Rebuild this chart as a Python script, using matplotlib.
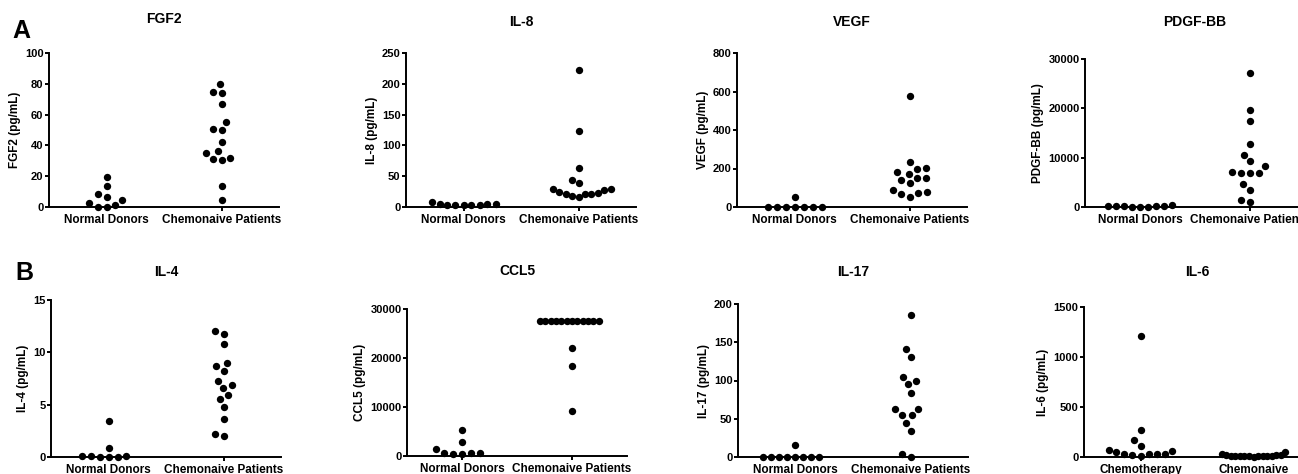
import numpy as np
import matplotlib
matplotlib.use("Agg")
import matplotlib.pyplot as plt

plt.rcParams["font.family"] = ["Liberation Sans", "DejaVu Sans"]
plt.rcParams["font.weight"] = "bold"

W, H = 1298, 474

# data (pg/mL)
groups_std = ["Normal Donors", "Chemonaive Patients"]
groups_il6 = ["Chemotherapy", "Chemonaive"]

fgf2_normal = [4.8, 13.7, 8.3, 19.6, 6.5, 1.3, 0, 0.2, 2.6]
fgf2_chemo = [80, 74.3, 75, 66.7, 55.2, 50, 50.4, 42.2, 36.1, 32, 30.7, 30.9, 34.8, 13.9, 4.3]

il8_normal = [8.2, 4.9, 3.8, 3.8, 2.7, 3.3, 3.8, 4.9, 4.9]
il8_chemo = [222.8, 123.4, 63, 43.5, 38.6, 28.8, 24.5, 21.2, 21.2, 16.3, 18.5, 21.7, 23.4, 27.2, 29.9]

vegf_normal = [0, 0, 0, 0, 0, 0, 0, 52]
vegf_chemo = [578, 235, 197, 173, 180, 204, 152, 139, 123, 149, 90, 73, 54, 66, 78]

pdgf_normal = [350, 250, 150, 100, 50, 100, 150, 200, 300]
pdgf_chemo = [27220, 19620, 17380, 12760, 10590, 9300, 8280, 6920, 6860, 6920, 7060, 4750, 3530, 1090, 1490]

il4_normal = [0.9, 0.1, 0, 0, 0, 0.1, 0.1, 3.4]
il4_chemo = [12.0, 11.75, 10.8, 8.7, 9.0, 8.2, 7.3, 6.9, 6.6, 5.9, 5.55, 4.75, 3.6, 2.0, 2.2]

ccl5_normal = [680, 680, 470, 470, 680, 1420, 2910, 5280]
ccl5_chemo = [27600] * 12 + [22100, 18300, 9100]

il17_normal = [0, 0, 0, 0, 0, 0, 0, 0, 16]
il17_chemo = [186, 141.3, 131.3, 99.6, 94.8, 104.3, 83.5, 63, 54.3, 54.8, 63, 44.8, 34.3, 0, 3.9]

il6_chemotherapy = [1207, 270, 167, 113, 67, 50, 27, 27, 13, 17, 27, 33, 60]
il6_chemonaive = [50, 30, 20, 15, 12, 10, 8, 5, 8, 10, 12, 15, 15, 18, 20]

titles = ["FGF2", "IL-8", "VEGF", "PDGF-BB", "IL-4", "CCL5", "IL-17", "IL-6"]
ymax = [100, 250, 800, 30000, 15, 30000, 200, 1500]
ysteps = [20, 50, 200, 10000, 5, 10000, 50, 500]
data = [
    (fgf2_normal, fgf2_chemo), (il8_normal, il8_chemo),
    (vegf_normal, vegf_chemo), (pdgf_normal, pdgf_chemo),
    (il4_normal, il4_chemo), (ccl5_normal, ccl5_chemo),
    (il17_normal, il17_chemo), (il6_chemotherapy, il6_chemonaive),
]
cats = [groups_std] * 7 + [groups_il6]

# panel boxes in pixels: left, right, top, bottom(zero line), title y
boxes = [
    (49, 279, 53, 207, 19), (406, 636, 53, 207, 22),
    (737, 967, 53, 207, 22), (1085, 1305, 59, 207, 22),
    (51, 281, 300, 457, 272), (407, 627, 309, 456, 271),
    (738, 968, 304, 457, 272), (1084, 1310, 307, 457, 272),
]

DOT = 9.0      # collision diameter, px
MAXHALF = 32   # max half-width of a swarm, px


def swarm(vals, px_per_unit):
    # beeswarm: closest-to-centre free slot, in pixel space
    vals = np.asarray(vals, dtype=float)
    xs = np.zeros(len(vals))
    placed = []
    for i in np.argsort(vals, kind="stable"):
        y = vals[i] * px_per_unit
        cands = [0.0]
        for px, py in placed:
            dy = abs(y - py)
            if dy < DOT:
                dx = np.sqrt(DOT ** 2 - dy ** 2)
                cands += [px - dx, px + dx]
        cands.sort(key=lambda c: (round(abs(c), 6), c))
        for c in cands:
            if all((c - px) ** 2 + (y - py) ** 2 >= DOT ** 2 - 1e-6 for px, py in placed):
                xs[i] = c
                placed.append((c, y))
                break
    m = np.abs(xs).max()
    if m > MAXHALF:
        xs *= MAXHALF / m
    return xs


fig = plt.figure(figsize=(W / 100, H / 100), dpi=100)

for k in range(8):
    l, r, t, b, ty = boxes[k]
    ax = fig.add_axes([l / W, 1 - b / H, (r - l) / W, (b - t) / H])
    ax.set_xlim(-0.5, 1.5)
    ax.set_ylim(0, ymax[k])
    px_per_unit = (b - t) / ymax[k]
    px_per_x = (r - l) / 2.0
    for j, vals in enumerate(data[k]):
        off = swarm(vals, px_per_unit)
        ax.scatter(j + off / px_per_x, vals, s=28, color="black",
                   linewidths=0, clip_on=False, zorder=5)
    ax.set_yticks(np.arange(0, ymax[k] + 1, ysteps[k]))
    ax.set_xticks([0, 1])
    ax.set_xticklabels(cats[k], fontsize=8.5, fontweight="bold")
    ax.tick_params(axis="y", labelsize=8, width=1.4, length=3, pad=1)
    ax.tick_params(axis="x", width=1.4, length=3, pad=2)
    for lab in ax.get_yticklabels():
        lab.set_fontweight("bold")
    for s in ["top", "right"]:
        ax.spines[s].set_visible(False)
    for s in ["left", "bottom"]:
        ax.spines[s].set_linewidth(1.4)
    ax.set_ylabel(titles[k] + " (pg/mL)", fontsize=8.5, fontweight="bold", labelpad=3)
    fig.text((l + r) / 2 / W, 1 - ty / H, titles[k], ha="center", va="center",
             fontsize=10, fontweight="bold")

fig.text(12 / W, 1 - 38 / H, "A", fontsize=18, fontweight="bold", va="baseline")
fig.text(15 / W, 1 - 280 / H, "B", fontsize=18, fontweight="bold", va="baseline")

fig.savefig("out.png", dpi=100)
